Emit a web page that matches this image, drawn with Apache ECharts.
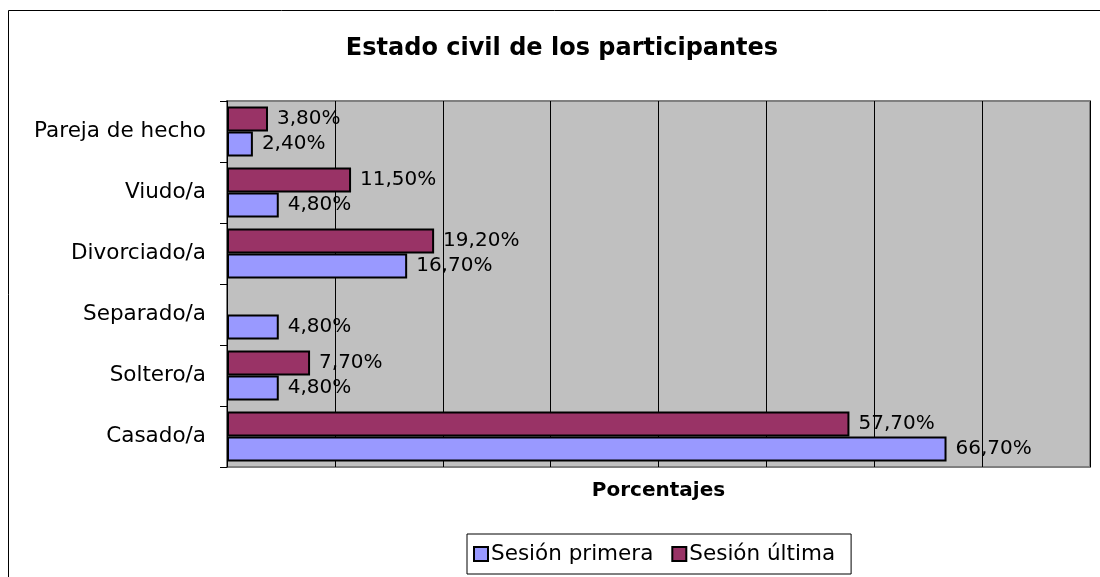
<!DOCTYPE html>
<html>
<head>
<meta charset="utf-8">
<script src="https://cdn.jsdelivr.net/npm/echarts@6/dist/echarts.min.js"></script>
<style>
  html, body { margin: 0; padding: 0; background: #fff; }
  #chart { width: 1100px; height: 577px; }
</style>
</head>
<body>
<div id="chart"></div>
<script>
// categorias (de abajo hacia arriba)
var categorias = ["Casado/a", "Soltero/a", "Separado/a", "Divorciado/a", "Viudo/a", "Pareja de hecho"];
var sesionPrimera = [66.7, 4.8, 4.8, 16.7, 4.8, 2.4];
var sesionUltima = [57.7, 7.7, null, 19.2, 11.5, 3.8];
var nombresSeries = ["Sesión primera", "Sesión última"];

var FONT = "DejaVu Sans, Verdana, sans-serif";

function etiqueta(p) {
  return p.value.toFixed(2).replace(".", ",") + "%";
}

var etiquetaBarra = {
  show: true,
  position: "right",
  distance: 9,
  formatter: etiqueta,
  fontFamily: FONT,
  fontSize: 20,
  color: "#000"
};

var charts = echarts.init(document.getElementById("chart"));
var option = {
  backgroundColor: "#fff",
  textStyle: { fontFamily: FONT, color: "#000" },
  //marco exterior
  graphic: [
    {
      type: "rect",
      z: -10,
      shape: { x: 8.5, y: 10.5, width: 1200, height: 700 },
      style: { fill: "none", stroke: "#000", lineWidth: 1 }
    }
  ],
  title: {
    text: "Estado civil de los participantes",
    left: 557,
    top: 32,
    textAlign: "center",
    textStyle: { fontFamily: FONT, fontSize: 24, fontWeight: "bold", color: "#000" }
  },
  grid: {
    left: 227,
    right: 10,
    top: 101,
    bottom: 110,
    show: true,
    backgroundColor: "#C0C0C0",
    borderColor: "#808080",
    borderWidth: 2
  },
  legend: {
    data: nombresSeries,
    left: 467,
    top: 534,
    icon: "rect",
    itemWidth: 14,
    itemHeight: 14,
    itemGap: 18,
    padding: [9, 16, 9, 6],
    borderColor: "#000",
    borderWidth: 1,
    backgroundColor: "#fff",
    textStyle: { fontFamily: FONT, fontSize: 21.5, color: "#000", padding: [0, 0, 0, -2] }
  },
  xAxis: {
    type: "value",
    min: 0,
    max: 80,
    interval: 10,
    name: "Porcentajes",
    nameLocation: "middle",
    nameGap: 14,
    nameTextStyle: { fontFamily: FONT, fontSize: 20, fontWeight: "bold", color: "#000" },
    axisLabel: { show: false },
    axisTick: { show: false },
    axisLine: { show: false },
    splitLine: { show: true, lineStyle: { color: "#000", width: 1 } }
  },
  yAxis: {
    type: "category",
    data: categorias,
    axisLine: { show: true, lineStyle: { color: "#000", width: 1 } },
    axisTick: { show: true, length: 7, lineStyle: { color: "#000" } },
    axisLabel: { fontFamily: FONT, fontSize: 21.5, color: "#000", margin: 21 }
  },
  //la serie "última" va primero para que quede arriba dentro de cada categoria
  series: [
    {
      name: nombresSeries[1],
      type: "bar",
      data: sesionUltima,
      barGap: "0%",
      barCategoryGap: "18%",
      itemStyle: { color: "#993366", borderColor: "#000", borderWidth: 2 },
      label: etiquetaBarra
    },
    {
      name: nombresSeries[0],
      type: "bar",
      data: sesionPrimera,
      barGap: "0%",
      barCategoryGap: "18%",
      itemStyle: { color: "#9999FF", borderColor: "#000", borderWidth: 2 },
      label: etiquetaBarra
    }
  ]
};
charts.setOption(option);
window.addEventListener("resize", function() {
  charts.resize();
});
</script>
</body>
</html>
